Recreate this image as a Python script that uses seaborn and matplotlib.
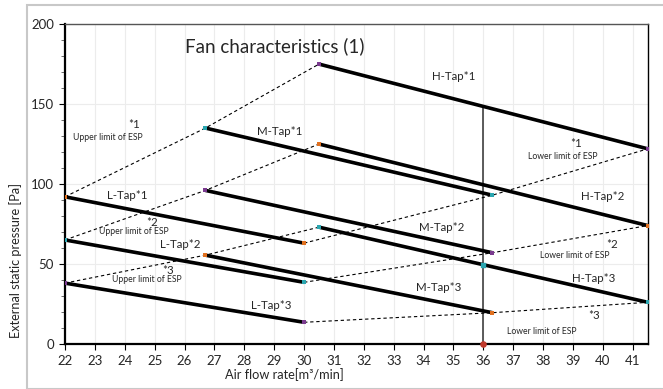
import numpy as np
import pandas as pd
import seaborn as sns
import matplotlib.pyplot as plt
from matplotlib.patches import Rectangle

# fan curves: endpoints of each tap line
h_x = [30.5, 41.5]
h1 = [175, 122]
h2 = [125, 74]
h3 = [73, 26]
m_x = [26.7, 36.3]
m1 = [135, 93]
m2 = [96, 57]
m3 = [55.5, 19.5]
l_x = [22, 30]
l1 = [92, 63]
l2 = [65, 38.5]
l3 = [38, 13.5]

sel_x = 36  # selected air flow rate

x_ticks = list(range(22, 42))

sns.set_style("white")
plt.rcParams['font.family'] = ['Lato', 'DejaVu Sans']

fig = plt.figure(figsize=(6.63, 3.89), dpi=100)
ax = fig.add_axes([0.098, 0.116, 0.879, 0.822])

# outer chart border
fig.patches.append(Rectangle((27 / 663, 0), 1, 1 - 5 / 389, transform=fig.transFigure,
                             fill=False, edgecolor='#c8c8c8', lw=1.5, zorder=0))

curves = pd.DataFrame({
    'x': h_x * 3 + m_x * 3 + l_x * 3,
    'y': h1 + h2 + h3 + m1 + m2 + m3 + l1 + l2 + l3,
    'name': sum([[n] * 2 for n in ['H1', 'H2', 'H3', 'M1', 'M2', 'M3', 'L1', 'L2', 'L3']], []),
})

# upper / lower ESP limits join the start / end points
upper = pd.DataFrame({
    'x': [l_x[0], m_x[0], h_x[0]] * 3,
    'y': [l1[0], m1[0], h1[0], l2[0], m2[0], h2[0], l3[0], m3[0], h3[0]],
    'name': ['u1'] * 3 + ['u2'] * 3 + ['u3'] * 3,
})
lower = pd.DataFrame({
    'x': [l_x[1], m_x[1], h_x[1]] * 3,
    'y': [l1[1], m1[1], h1[1], l2[1], m2[1], h2[1], l3[1], m3[1], h3[1]],
    'name': ['d1'] * 3 + ['d2'] * 3 + ['d3'] * 3,
})

for lim in [upper, lower]:
    sns.lineplot(data=lim, x='x', y='y', units='name', estimator=None, color='black',
                 lw=0.8, ls=(0, (3, 2.5)), ax=ax, zorder=3)

sns.lineplot(data=curves, x='x', y='y', units='name', estimator=None, color='black',
             lw=2.6, ax=ax, zorder=4)

# little end markers
mk_cols = ['#e0701f', '#2aa6b0', '#7a3b8f']
for i, (xx, ys) in enumerate([(l_x, [l1, l2, l3]), (m_x, [m1, m2, m3]), (h_x, [h1, h2, h3])]):
    for j, yy in enumerate(ys):
        ax.scatter(xx, yy, s=5, marker='s', color=mk_cols[(i + j) % 3], zorder=5, lw=0)

# selected flow rate line
sel_y = np.interp(sel_x, h_x, h1)
ax.plot([sel_x, sel_x], [0, sel_y], color='#404040', lw=1.2, zorder=2)
ax.scatter([sel_x], [0], s=14, color='#c0392b', zorder=6, clip_on=False)
ax.scatter([sel_x], [np.interp(sel_x, h_x, h3)], s=5, marker='s', color='#2aa6b0', zorder=6)

ax.set_xlim(22, 41.5)
ax.set_ylim(0, 200)
ax.set_xticks(x_ticks)
ax.set_yticks([0, 50, 100, 150, 200])
ax.set_yticks(np.arange(0, 201, 10), minor=True)
ax.grid(axis='x', color='#ececec', lw=0.8)
ax.grid(axis='y', which='major', color='#ececec', lw=0.8)
ax.tick_params(axis='both', which='major', labelsize=9.5, length=4, direction='out',
               color='black', pad=4, bottom=True, left=True)
ax.tick_params(axis='y', which='minor', length=3, direction='out', color='#555555', left=True)
for s in ['left', 'bottom']:
    ax.spines[s].set_color('black')
    ax.spines[s].set_linewidth(1.6)
ax.spines['right'].set_color('black')
ax.spines['right'].set_linewidth(1.0)
ax.spines['top'].set_color('#555555')
ax.spines['top'].set_linewidth(1.0)

ax.set_xlabel('Air flow rate[m³/min]', fontsize=9.2)
ax.set_ylabel('External static pressure [Pa]', fontsize=9.2)
ax.xaxis.set_label_coords(0.376, -0.075)
ax.yaxis.set_label_coords(-0.074, 0.26)

ax.text(26.0, 186, 'Fan characteristics (1)', fontsize=13.5, ha='left', va='center')

tap_labels = [('H-Tap*1', 35.0, 167), ('H-Tap*2', 40.0, 92), ('H-Tap*3', 39.7, 41),
              ('M-Tap*1', 29.2, 133), ('M-Tap*2', 34.6, 73), ('M-Tap*3', 34.5, 35.5),
              ('L-Tap*1', 24.1, 93), ('L-Tap*2', 25.85, 62), ('L-Tap*3', 28.9, 24)]
for t, tx, ty in tap_labels:
    ax.text(tx, ty, t, fontsize=8.3, ha='center', va='center')

notes = [('*1', 24.3, 137.5, 23.45, 129, 'Upper limit of ESP'),
         ('*2', 24.9, 76, 24.3, 70, 'Upper limit of ESP'),
         ('*3', 25.45, 46, 24.75, 40, 'Upper limit of ESP'),
         ('*1', 39.1, 125.4, 38.65, 117, 'Lower limit of ESP'),
         ('*2', 40.3, 62, 39.05, 55, 'Lower limit of ESP'),
         ('*3', 39.7, 18, 37.95, 7.7, 'Lower limit of ESP')]
for star, sx, sy, nx, ny, note in notes:
    ax.text(sx, sy, star, fontsize=8.3, ha='center', va='center')
    ax.text(nx, ny, note, fontsize=6.2, ha='center', va='center')

fig.savefig('out.png', dpi=100)
